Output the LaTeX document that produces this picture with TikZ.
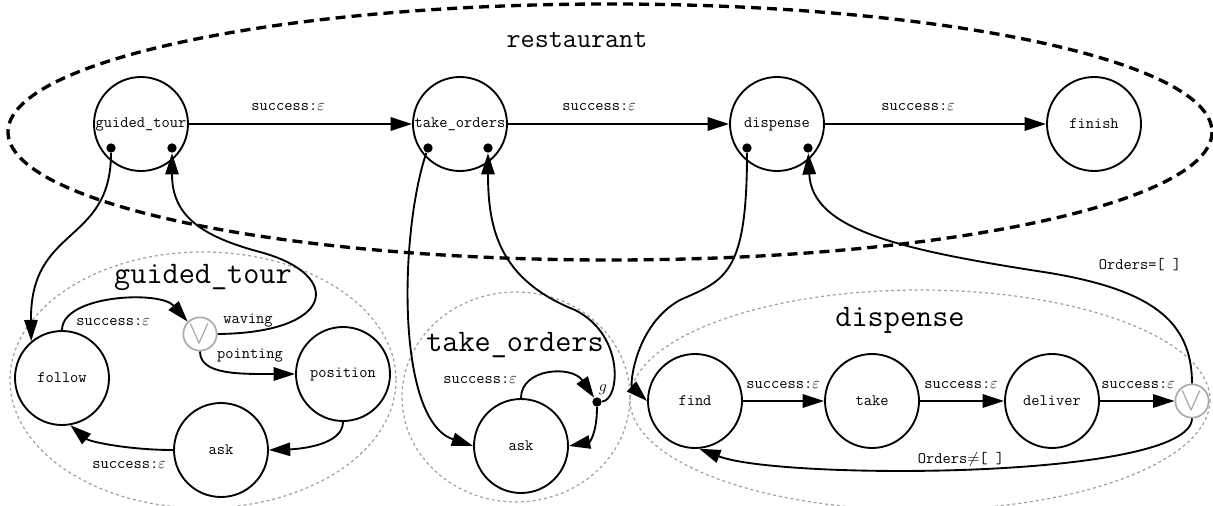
\documentclass[tikz,border=0pt]{standalone}
\usepackage{fontspec}
\usetikzlibrary{arrows.meta}

\newcommand{\cour}{\ttfamily}
\tikzset{every picture/.style={line width=0.75pt}}
\tikzset{
  st/.style={draw, circle, line width=1.4pt, minimum size=70.5pt, inner sep=0pt, font=\cour\fontsize{12}{13}\selectfont},
  orst/.style={draw=gray!65, circle, line width=1.3pt, minimum size=25pt, inner sep=0pt, text=gray!70, font=\fontsize{24}{24}\selectfont},
  port/.style={circle, fill, inner sep=0pt, minimum size=7pt},
  arr/.style={line width=1.4pt, -{Triangle[length=16pt,width=10pt]}},
  lbl/.style={font=\cour\fontsize{12}{13}\selectfont, inner sep=0pt},
  ttl/.style={font=\cour\fontsize{23.5}{26}\selectfont, inner sep=0pt},
  grp/.style={draw=gray!75, line width=0.9pt, dash pattern={on 2.2pt off 2.2pt}},
}

\begin{document}
\begin{tikzpicture}[x=0.75pt,y=0.75pt,yscale=-1]
	\useasboundingbox (0,0) rectangle (1213,506);

	%Shape: Ellipse [restaurant]
	\draw [line width=2.5pt, dash pattern={on 7.5pt off 4.5pt}] (610,132) ellipse (602 and 128);
	%Shape: Ellipse [guided_tour]
	\draw [grp] (203,380) ellipse (193 and 128);
	%Shape: Ellipse [take_orders]
	\draw [grp] (516,397) ellipse (114 and 105);
	%Shape: Ellipse [dispense]
	\draw [grp] (920,400) ellipse (290 and 110);

	% Titles
	\node [font=\cour\fontsize{20.5}{22}\selectfont, inner sep=0pt] (trest) at (577,40) {restaurant};
	\node [ttl] (tgtour) at (203,278) {guided\_tour};
	\node [ttl] (ttorders) at (515,345) {take\_orders};
	\node [ttl] (tdisp) at (900,320) {dispense};

	% top level states
	\node [st] (gtour) at (141,124) {guided\_tour};
	\node [st] (torders) at (460,124) {take\_orders};
	\node [st] (disp) at (777,124) {dispense};
	\node [st] (finish) at (1094,124) {finish};
	\node [port] (gtourA) at (111,148) {};
	\node [port] (gtourB) at (172,148) {};
	\node [port] (tordA) at (428,148) {};
	\node [port] (tordB) at (488,148) {};
	\node [port] (dispA) at (747,148) {};
	\node [port] (dispB) at (808,148) {};

	% guided_tour states
	\node [st] (gfollow) at (62,378) {follow};
	\node [orst] (gor) at (200,334) {$\vee$};
	\node [st] (gposition) at (343,374) {position};
	\node [st] (gask) at (221,450) {ask};

	% take_orders states
	\node [st] (task) at (521,446) {ask};
	\node [port] (tg) at (597,402) {};

	% dispense states
	\node [st] (dfind) at (695,401) {find};
	\node [st] (dtake) at (872,401) {take};
	\node [st] (ddeliver) at (1052,401) {deliver};
	\node [orst] (dor) at (1192,401) {$\vee$};

	%Straight Lines
	\draw [arr] (gtour) -- (torders);
	\draw [arr] (torders) -- (disp);
	\draw [arr] (disp) -- (finish);
	\draw [arr] (dfind) -- (dtake);
	\draw [arr] (dtake) -- (ddeliver);
	\draw [arr] (ddeliver) -- (dor);

	%Curve Lines [guided_tour]
	\draw [arr] (gtourA) .. controls (111,245) and (30,225) .. (gfollow.130);
	\draw [arr] (gfollow.north) .. controls (62,295) and (160,290) .. (gor.135);
	\draw [arr] (gor.south) .. controls (200,375) and (240,374) .. (gposition.west);
	\draw [arr] (gor.east) .. controls (335,333) and (345,275) .. (260,252) .. controls (200,236) and (172,215) .. (gtourB);
	\draw [arr] (gposition.south) .. controls (343,445) and (300,449) .. (gask.east);
	\draw [arr] (gask.west) .. controls (130,450) and (90,442) .. (gfollow.-80);

	%Curve Lines [take_orders]
	\draw [arr] (tordA) .. controls (400,230) and (395,420) .. (task.west);
	\draw [arr] (task.north) .. controls (521,368) and (572,365) .. (tg);
	\draw [arr] (tg) .. controls (597,432) and (590,442) .. (task.east);
	\draw [arr] (tg) .. controls (620,400) and (625,335) .. (575,310) .. controls (500,280) and (488,230) .. (tordB);

	%Curve Lines [dispense]
	\draw [arr] (dispA) .. controls (747,275) and (725,280) .. (680,300) .. controls (635,325) and (630,385) .. (dfind.west);
	\draw [arr] (dor.north) .. controls (1192,320) and (1150,290) .. (1050,273) .. controls (900,250) and (812,230) .. (dispB);
	\draw [arr] (dor.south) .. controls (1190,480) and (780,480) .. (dfind.-85);

	% Text Node
	\node [lbl] (l1) at (288,107) {success:$\varepsilon$};
	\node [lbl] (l2) at (599,107) {success:$\varepsilon$};
	\node [lbl] (l3) at (918,107) {success:$\varepsilon$};
	\node [lbl] (l4) at (113,322) {success:$\varepsilon$};
	\node [lbl] (l5) at (248,321) {waving};
	\node [lbl] (l6) at (250,356) {pointing};
	\node [lbl] (l7) at (129,465) {success:$\varepsilon$};
	\node [lbl] (l8) at (480,380) {success:$\varepsilon$};
	\node [inner sep=0pt, font=\fontsize{12}{12}\selectfont] (lg) at (603,390) {$g$};
	\node [lbl] (l9) at (783,385) {success:$\varepsilon$};
	\node [lbl] (l10) at (961,385) {success:$\varepsilon$};
	\node [lbl] (l11) at (1138,385) {success:$\varepsilon$};
	\node [lbl] (l12) at (961,459) {Orders$\neq$[ ]};
	\node [lbl] (l13) at (1140,265) {Orders=[ ]};

\end{tikzpicture}
\end{document}
